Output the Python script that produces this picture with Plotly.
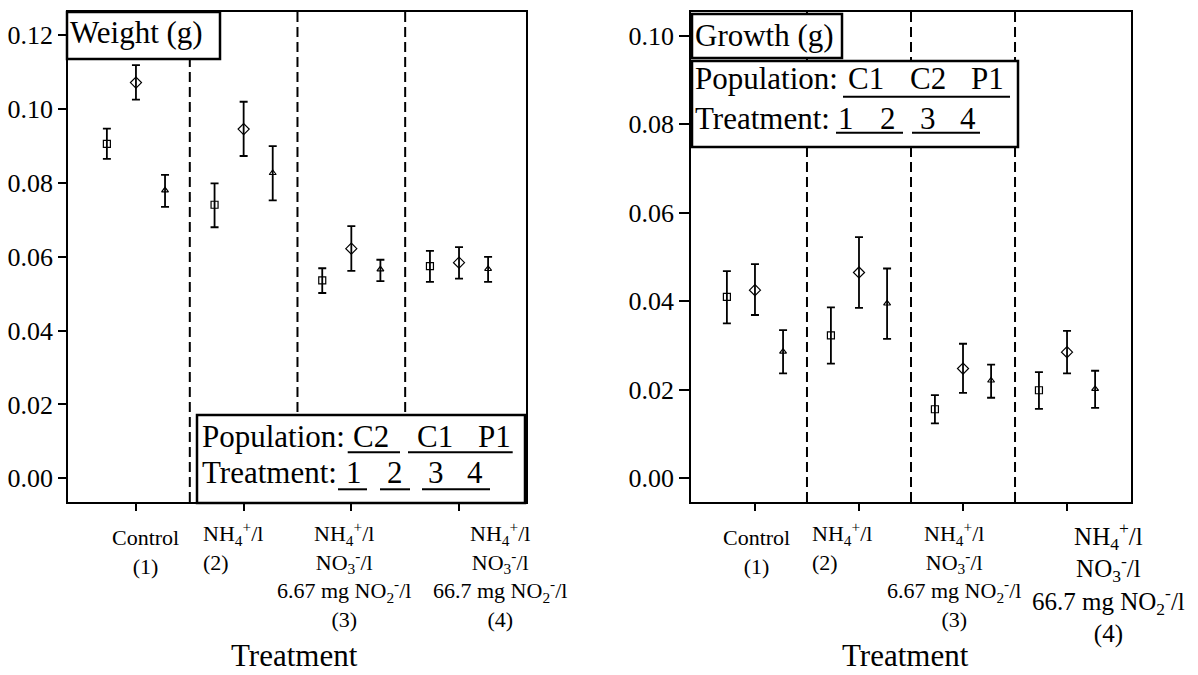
import plotly.graph_objects as go

W, H = 1198, 675
FONT = "'Liberation Serif', 'Times New Roman', Times, serif"

# ---------------- data ----------------
positions = [1, 2, 3, 4]

# Left panel: Weight (g); series order = square, diamond, triangle
weight_pops = ["C2", "C1", "P1"]
weight_mean = {
    "C2": [0.0906, 0.0741, 0.0536, 0.0575],
    "C1": [0.1072, 0.0946, 0.0622, 0.0584],
    "P1": [0.0780, 0.0827, 0.0566, 0.0567],
}
weight_hi = {
    "C2": [0.0947, 0.0799, 0.0569, 0.0616],
    "C1": [0.1119, 0.1020, 0.0683, 0.0626],
    "P1": [0.0822, 0.0900, 0.0592, 0.0600],
}
weight_lo = {
    "C2": [0.0865, 0.0680, 0.0502, 0.0532],
    "C1": [0.1026, 0.0873, 0.0562, 0.0541],
    "P1": [0.0735, 0.0753, 0.0534, 0.0532],
}

# Right panel: Growth (g)
growth_pops = ["C1", "C2", "P1"]
growth_mean = {
    "C1": [0.0410, 0.0323, 0.0156, 0.0199],
    "C2": [0.0425, 0.0465, 0.0248, 0.0285],
    "P1": [0.0286, 0.0395, 0.0221, 0.0202],
}
growth_hi = {
    "C1": [0.0468, 0.0386, 0.0188, 0.0240],
    "C2": [0.0484, 0.0545, 0.0304, 0.0333],
    "P1": [0.0335, 0.0474, 0.0257, 0.0243],
}
growth_lo = {
    "C1": [0.0350, 0.0259, 0.0124, 0.0157],
    "C2": [0.0369, 0.0385, 0.0193, 0.0237],
    "P1": [0.0237, 0.0315, 0.0182, 0.0159],
}

weight_ticks = [0.00, 0.02, 0.04, 0.06, 0.08, 0.10, 0.12]
growth_ticks = [0.00, 0.02, 0.04, 0.06, 0.08, 0.10]

treat_labels = [
    "Control<br>(1)",
    "NH<sub>4</sub><sup>+</sup>/l<br>(2)",
    "NH<sub>4</sub><sup>+</sup>/l<br>NO<sub>3</sub><sup>-</sup>/l<br>6.67 mg NO<sub>2</sub><sup>-</sup>/l<br>(3)",
    "NH<sub>4</sub><sup>+</sup>/l<br>NO<sub>3</sub><sup>-</sup>/l<br>66.7 mg NO<sub>2</sub><sup>-</sup>/l<br>(4)",
]
boundaries = [1.5, 2.5, 3.5]

# ---------------- helpers ----------------
def px(x):
    return x / W

def py(y):
    return 1 - y / H

symbols = ["square-open", "diamond-open", "triangle-up-open"]
sizes = [7, 8.5, 6]
offsets = [-0.27, 0.0, 0.27]

fig = go.Figure()

def add_panel(pops, mean, hi, lo, xa, ya):
    for k, p in enumerate(pops):
        m = mean[p]
        fig.add_trace(go.Scatter(
            x=[c + offsets[k] for c in positions], y=m,
            mode="markers", name=p, showlegend=False,
            xaxis=xa, yaxis=ya,
            marker=dict(symbol=symbols[k], size=sizes[k], color="black",
                        line=dict(width=1.2, color="black")),
            error_y=dict(type="data", symmetric=False,
                         array=[h - v for h, v in zip(hi[p], m)],
                         arrayminus=[v - l for l, v in zip(lo[p], m)],
                         color="black", thickness=1.8, width=4),
        ))

add_panel(weight_pops, weight_mean, weight_hi, weight_lo, "x", "y")
add_panel(growth_pops, growth_mean, growth_hi, growth_lo, "x2", "y2")

axis_common = dict(showgrid=False, zeroline=False, showline=True, linecolor="black",
                   linewidth=1.5, mirror=True, ticks="outside", tickcolor="black",
                   tickwidth=1.5, tickfont=dict(family=FONT, size=26, color="black"))

ydom = [py(502), py(12)]
fig.update_layout(
    width=W, height=H, margin=dict(l=0, r=0, t=0, b=0),
    font=dict(family=FONT, color="black"),
    paper_bgcolor="white", plot_bgcolor="white", showlegend=False,
    xaxis=dict(domain=[px(68), px(526)], range=[0.369, 4.622], tickvals=positions,
               showticklabels=False, ticklen=7, anchor="y", **axis_common),
    yaxis=dict(domain=ydom, range=[-0.00642, 0.12631], tickvals=weight_ticks,
               tickformat=".2f", ticklen=8, anchor="x", **axis_common),
    xaxis2=dict(domain=[px(691), px(1131)], range=[0.385, 4.615], tickvals=positions,
                showticklabels=False, ticklen=7, anchor="y2", **axis_common),
    yaxis2=dict(domain=ydom, range=[-0.00535, 0.10535], tickvals=growth_ticks,
                tickformat=".2f", ticklen=10, anchor="x2", **axis_common),
)

shapes = []
for xr in ["x", "x2"]:
    for b in boundaries:
        shapes.append(dict(type="line", xref=xr, yref=("y" if xr == "x" else "y2") + " domain",
                           x0=b, x1=b, y0=0, y1=1, layer="above",
                           line=dict(color="black", width=2, dash="10px,5px")))

def rect(x0, y0, x1, y1, w=2.5):
    shapes.append(dict(type="rect", xref="paper", yref="paper",
                       x0=px(x0), x1=px(x1), y0=py(y1), y1=py(y0),
                       fillcolor="white", layer="above",
                       line=dict(color="black", width=w)))

def uline(x0, x1, y):
    shapes.append(dict(type="line", xref="paper", yref="paper",
                       x0=px(x0), x1=px(x1), y0=py(y), y1=py(y), layer="above",
                       line=dict(color="black", width=2)))

annotations = []

def txt(s, x, base, fs=31, anchor="left"):
    annotations.append(dict(text=s, xref="paper", yref="paper", x=px(x),
                            y=py(base - 0.3375 * fs), xanchor=anchor, yanchor="middle",
                            showarrow=False, borderpad=0, borderwidth=0,
                            font=dict(family=FONT, size=fs, color="black")))

# Left panel boxes
rect(67, 12, 220, 59)
txt("Weight (g)", 70, 43.3)
rect(197, 415, 525, 503)
txt("Population:", 201.5, 446.7)
for s, c in zip(weight_pops, [370.5, 435, 494]):
    txt(s, c, 446.7, anchor="center")
uline(347.7, 400, 452.3)
uline(408, 512.7, 452.3)
txt("Treatment:", 201.5, 483.3)
for s, c in zip(["1", "2", "3", "4"], [353.5, 395, 435.5, 475]):
    txt(s, c, 483.3, anchor="center")
uline(338, 367, 489.3)
uline(380, 410, 489.3)
uline(422, 490, 489.3)

# Right panel boxes
rect(692, 14, 842, 58)
txt("Growth (g)", 695, 45.7)
rect(692, 61, 1018, 147)
txt("Population:", 695, 89.3)
for s, c in zip(growth_pops, [866, 928, 987]):
    txt(s, c, 89.3, anchor="center")
uline(843, 1010, 96.7)
txt("Treatment:", 695, 129)
for s, c in zip(["1", "2", "3", "4"], [846, 888, 927.5, 967.5]):
    txt(s, c, 129, anchor="center")
uline(836, 903, 132.7)
uline(912, 980, 132.7)

# Axis titles
txt("Treatment", 294.5, 666, fs=31, anchor="center")
txt("Treatment", 905, 666, fs=31, anchor="center")

# Category labels (placed on the category axes)
left_label_x = [1.084, 1.622, 2.93, 4.38]
right_label_x = [1.01, 1.548, 2.918, 4.40]
for xr, lx, big in [("x", left_label_x, False), ("x2", right_label_x, True)]:
    for i, (lab, xv) in enumerate(zip(treat_labels, lx)):
        fs = 25 if (big and i == 3) else 22
        anchor = "left" if i == 1 else "center"
        shift = -23 if i == 0 else -16
        annotations.append(dict(text=lab, xref=xr, yref="paper", x=xv, y=py(502),
                                xanchor=anchor, yanchor="top", yshift=shift,
                                align="left" if i == 1 else "center",
                                showarrow=False, borderpad=0, borderwidth=0,
                                font=dict(family=FONT, size=fs, color="black")))

fig.update_layout(shapes=shapes, annotations=annotations)
fig.write_html("out.html")
